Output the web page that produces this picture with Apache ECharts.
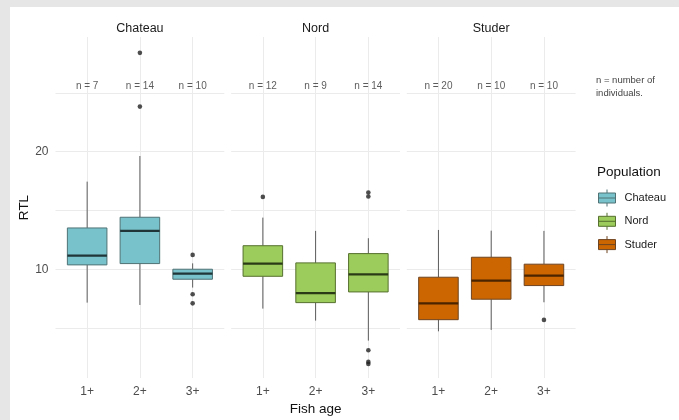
<!DOCTYPE html>
<html>
<head>
<meta charset="utf-8">
<script src="https://cdn.jsdelivr.net/npm/echarts@6/dist/echarts.min.js"></script>
<style>
  html, body { margin: 0; padding: 0; background: #ffffff; }
  #chart { position: absolute; left: 0; top: 0; width: 679px; height: 420px; background: #ffffff; }
  .band { position: absolute; background: #e6e6e6; pointer-events: none; }
</style>
</head>
<body>
<div id="chart"></div>
<div class="band" style="left:0;top:0;width:679px;height:7px;"></div>
<div class="band" style="left:0;top:0;width:10px;height:420px;"></div>
<script>
// ---- data ----
const populations = ['Chateau', 'Nord', 'Studer'];
const ages = ['1+', '2+', '3+'];
const yTicks = [5, 10, 15, 20, 25];
const yLabels = [10, 20];

// [lower whisker, Q1, median, Q3, upper whisker] per age
const chateauBoxes = [[7.16, 10.37, 11.16, 13.51, 17.45], [6.96, 10.48, 13.26, 14.42, 19.63], [8.44, 9.15, 9.63, 10.0, 10.5]];
const nordBoxes    = [[6.65, 9.4, 10.48, 12.0, 14.39], [5.63, 7.16, 7.96, 10.54, 13.26], [3.93, 8.07, 9.57, 11.33, 12.64]];
const studerBoxes  = [[4.72, 5.71, 7.1, 9.32, 13.34], [4.84, 7.45, 9.03, 11.02, 13.28], [7.19, 8.61, 9.46, 10.43, 13.26]];

// outliers: [age index (1-based), value]
const chateauOutliers = [[2, 28.4], [2, 23.83], [3, 11.22], [3, 7.87], [3, 7.1]];
const nordOutliers    = [[1, 16.15], [3, 16.52], [3, 16.18], [3, 3.11], [3, 2.12], [3, 1.95]];
const studerOutliers  = [[3, 5.69]];

const chateauN = [7, 14, 10];
const nordN    = [12, 9, 14];
const studerN  = [20, 10, 10];

// ---- styles / layout ----
const fills   = ['#78C3CB', '#9CCC5B', '#CC6600'];
const borders = ['#4F7275', '#56702F', '#6E4420'];
const medians = ['#1F3537', '#2A3A16', '#4A2400'];
const whiskerColor = '#5c5c5c';
const panelLefts = [55.5, 231.2, 406.8];
const panelWidth = 168.8;
const panelTop = 37;
const panelHeight = 341;
const nLabelY = 25.6;

const boxesAll = [chateauBoxes, nordBoxes, studerBoxes];
const outliersAll = [chateauOutliers, nordOutliers, studerOutliers];
const nAll = [chateauN, nordN, studerN];

const FONT = 'Liberation Sans, Arial, sans-serif';
const grid = [], xAxis = [], yAxis = [], series = [];

populations.forEach((pop, i) => {
  grid.push({ left: panelLefts[i], top: panelTop, width: panelWidth, height: panelHeight, containLabel: false, outerBoundsMode: 'none' });
  xAxis.push({
    type: 'value', gridIndex: i, min: 0.4, max: 3.6,
    name: i === 1 ? 'Fish age' : '', nameLocation: 'middle', nameGap: 24, nameMoveOverlap: false,
    nameTextStyle: { fontSize: 13.5, color: '#111', fontFamily: FONT },
    axisLine: { show: false },
    axisTick: { show: false, customValues: [1, 2, 3] },
    axisLabel: { customValues: [1, 2, 3], formatter: v => ages[Math.round(v) - 1], color: '#4d4d4d', fontSize: 12, margin: 8, fontFamily: FONT },
    splitLine: { show: true, lineStyle: { color: '#ebebeb', width: 1 } }
  });
  yAxis.push({
    type: 'value', gridIndex: i, min: 0.75, max: 29.75,
    name: i === 0 ? 'RTL' : '', nameLocation: 'middle', nameGap: 24, nameRotate: 90, nameMoveOverlap: false,
    nameTextStyle: { fontSize: 13.5, color: '#111', fontFamily: FONT },
    axisLine: { show: false },
    axisTick: { show: false, customValues: yTicks },
    axisLabel: { show: i === 0, customValues: yLabels, color: '#4d4d4d', fontSize: 12, margin: 7, fontFamily: FONT },
    splitLine: { show: true, lineStyle: { color: '#ebebeb', width: 1 } }
  });
  series.push({
    type: 'custom', name: pop, xAxisIndex: i, yAxisIndex: i, silent: true, animation: false,
    itemStyle: { color: fills[i], borderColor: borders[i], borderWidth: 1 },
    encode: { x: 0, y: [1, 2, 3, 4, 5] },
    data: boxesAll[i].map((b, j) => [j + 1].concat(b)),
    renderItem: function (params, api) {
      const x = api.value(0);
      const pLo = api.coord([x, api.value(1)]);
      const pQ1 = api.coord([x, api.value(2)]);
      const pMed = api.coord([x, api.value(3)]);
      const pQ3 = api.coord([x, api.value(4)]);
      const pHi = api.coord([x, api.value(5)]);
      const half = api.size([0.75, 0])[0] / 2;
      const cx = pMed[0];
      return {
        type: 'group',
        children: [
          { type: 'line', shape: { x1: cx, y1: pHi[1], x2: cx, y2: pQ3[1] }, style: { stroke: whiskerColor, lineWidth: 1 } },
          { type: 'line', shape: { x1: cx, y1: pQ1[1], x2: cx, y2: pLo[1] }, style: { stroke: whiskerColor, lineWidth: 1 } },
          { type: 'rect', shape: { x: cx - half, y: pQ3[1], width: 2 * half, height: pQ1[1] - pQ3[1] }, style: { fill: fills[i], stroke: borders[i], lineWidth: 1 } },
          { type: 'line', shape: { x1: cx - half, y1: pMed[1], x2: cx + half, y2: pMed[1] }, style: { stroke: medians[i], lineWidth: 2.2 } }
        ]
      };
    }
  });
  series.push({
    type: 'scatter', name: pop + ' outliers', xAxisIndex: i, yAxisIndex: i, silent: true, animation: false,
    symbolSize: 4.6, itemStyle: { color: '#222222' },
    data: outliersAll[i]
  });
  series.push({
    type: 'scatter', name: pop + ' n', xAxisIndex: i, yAxisIndex: i, silent: true, animation: false,
    symbolSize: 0.1, itemStyle: { color: 'rgba(0,0,0,0)' },
    label: { show: true, position: 'inside', formatter: p => 'n = ' + p.value[2], fontSize: 10, color: '#333', fontFamily: FONT },
    data: nAll[i].map((n, j) => [j + 1, nLabelY, n])
  });
});

const boxIcon = 'path://M8.5,0L8.5,3.5M0,3.5L17,3.5L17,13.5L0,13.5ZM0,8.5L17,8.5M8.5,13.5L8.5,17';

const titles = populations.map((pop, i) => ({
  text: pop, left: panelLefts[i] + panelWidth / 2, top: 22, textAlign: 'center', padding: 0,
  textStyle: { fontSize: 12.5, fontWeight: 'normal', color: '#1a1a1a', fontFamily: FONT }
}));
titles.push({
  text: 'Population', left: 597, top: 165, padding: 0,
  textStyle: { fontSize: 13.5, fontWeight: 'normal', color: '#111', fontFamily: FONT }
});
titles.push({
  text: 'n = number of\nindividuals.', left: 596, top: 73.5, padding: 0,
  textStyle: { fontSize: 9.5, lineHeight: 13.3, fontWeight: 'normal', color: '#444', fontFamily: FONT }
});

const chart = echarts.init(document.getElementById('chart'), null, { renderer: 'canvas' });
chart.setOption({
  animation: false,
  backgroundColor: '#ffffff',
  textStyle: { fontFamily: FONT },
  title: titles,
  legend: {
    orient: 'vertical', left: 598, top: 189, padding: 0,
    itemWidth: 17, itemHeight: 17, itemGap: 5.3, selectedMode: false,
    data: populations.map((p, i) => ({ name: p, icon: boxIcon, itemStyle: { color: fills[i], borderColor: borders[i], borderWidth: 1 } })),
    textStyle: { fontSize: 11, color: '#1a1a1a', fontFamily: FONT, padding: [0, 0, 0, 4] }
  },
  grid: grid,
  xAxis: xAxis,
  yAxis: yAxis,
  series: series
});
</script>
</body>
</html>
